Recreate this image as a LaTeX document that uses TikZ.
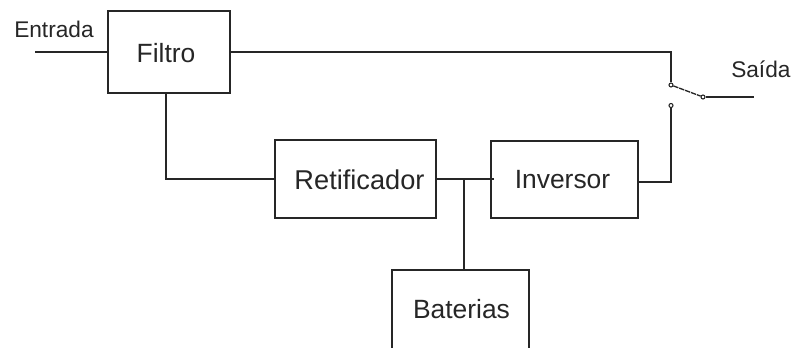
\documentclass[tikz,border=0pt]{standalone}
\usepackage{fontspec}
\setmainfont{Liberation Sans}
\definecolor{ink}{HTML}{262626}
\tikzset{
  blockbox/.style={draw=ink,line width=1.1pt,minimum width=#1,inner sep=0pt,text=ink,font=\fontsize{19.5}{22}\selectfont},
  wire/.style={draw=ink,line width=1.1pt},
  thinwire/.style={draw=ink,line width=1pt,dash pattern=on 4pt off 0.7pt},
  lab/.style={text=ink,inner sep=0pt,font=\fontsize{17}{20}\selectfont},
  biglab/.style={text=ink,inner sep=0pt,font=\fontsize{19.8}{22}\selectfont},
  contact/.style={circle,draw=ink,line width=0.8pt,fill=white,minimum size=3pt,inner sep=0pt}
}
\begin{document}
\begin{tikzpicture}[x=0.75pt,y=-0.75pt]
\useasboundingbox (0,0) rectangle (793,347);
\clip (0,0) rectangle (793,347);
\node[blockbox=91.5pt,minimum height=61.5pt] (filtro) at (169,52) {};
\node[blockbox=120.75pt,minimum height=58.5pt] (ret) at (355.5,179) {};
\node[blockbox=110.25pt,minimum height=57.75pt] (inv) at (564.5,179.5) {};
\node[blockbox=102.75pt,minimum height=90pt] (bat) at (460.5,330) {};
\node[biglab] (filtrolab) at (166,53) {Filtro};
\node[biglab,font=\fontsize{20.4}{22}\selectfont] (retlab) at (359.5,180) {Retificador};
\node[biglab] (invlab) at (562.5,180) {Inversor};
\node[biglab] (batlab) at (461.5,309) {Baterias};
\node[lab,anchor=west] (ent) at (14,29) {Entrada};
\node[lab,anchor=west] (sai) at (731,69) {Saída};
\coordinate (in) at (35,52);
\coordinate (out) at (754,97);
\coordinate (top) at (671,52);
\coordinate (lowcorner) at (671,182);
\coordinate (filtrodown) at (166,93);
\coordinate (rleft) at (166,179);
\coordinate (tee) at (464,179);
\coordinate (invstub) at (494,179);
\coordinate (invright) at (638,182);
\node[contact] (c1) at (671,85) {};
\node[contact] (c2) at (671,105.5) {};
\node[contact] (c3) at (703,97) {};
\draw[wire] (in) -- (filtro.west |- in);
\draw[wire] (filtro.east |- top) -- (top) -- (c1);
\draw[wire] (filtrodown) -- (rleft) -- (ret.west |- rleft);
\draw[wire] (ret.east |- tee) -- (invstub);
\draw[wire] (tee) -- (bat.north -| tee);
\draw[wire] (invright) -- (lowcorner) -- (c2);
\draw[thinwire] (c1) -- (c3);
\draw[wire] (c3) -- (out);
\end{tikzpicture}
\end{document}
